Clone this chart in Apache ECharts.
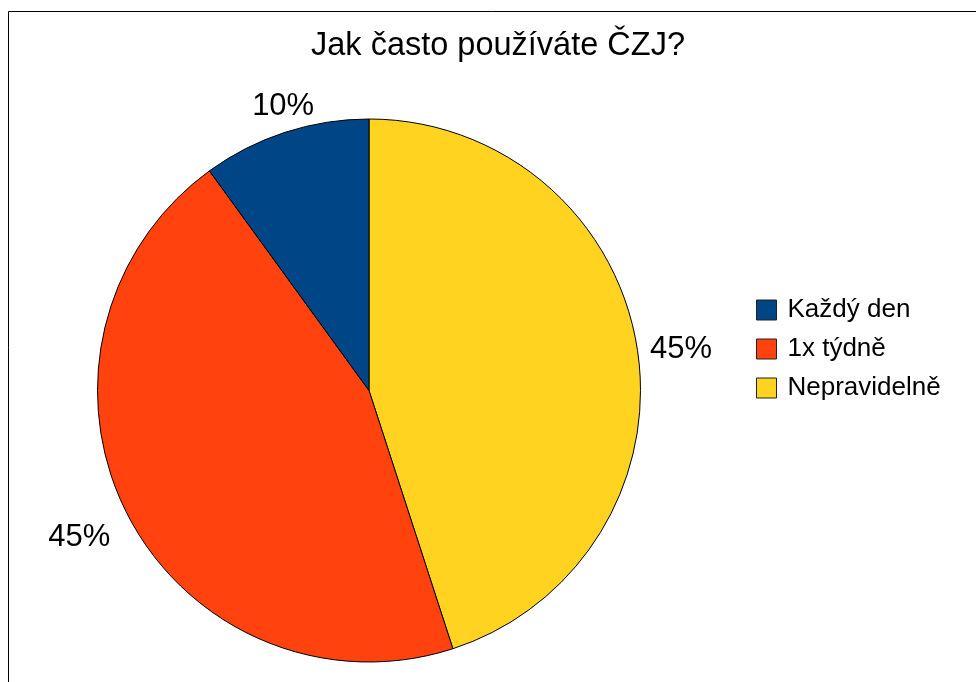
<!DOCTYPE html>
<html>
<head>
<meta charset="utf-8">
<script src="https://cdn.jsdelivr.net/npm/echarts@6/dist/echarts.min.js"></script>
<style>
html,body{margin:0;padding:0;background:#fff;}
#chart{width:976px;height:682px;}
</style>
</head>
<body>
<div id="chart"></div>
<script>
// Data
const titleText = 'Jak často používáte ČZJ?';
const categories = ['Nepravidelně', '1x týdně', 'Každý den'];
const values = [45, 45, 10];
const colors = ['#ffd320', '#ff420e', '#004586'];
const legendOrder = ['Každý den', '1x týdně', 'Nepravidelně'];
// label nudges (relative to library's outside label position)
const labelShift = [[0, 2], [-4, 22], [40, -23]];

const chart = echarts.init(document.getElementById('chart'), null, {renderer: 'canvas'});
const FONT = '"Liberation Sans", Arial, sans-serif';

chart.setOption({
  backgroundColor: '#ffffff',
  animation: false,
  graphic: [{
    type: 'rect',
    shape: {x: 8.5, y: 11.5, width: 2000, height: 2000},
    style: {fill: 'none', stroke: '#000', lineWidth: 1},
    silent: true
  }],
  title: {
    text: titleText,
    left: 498,
    top: 30,
    padding: 0,
    textAlign: 'center',
    textStyle: {fontFamily: FONT, fontSize: 32.5, fontWeight: 'normal', color: '#000'}
  },
  legend: {
    orient: 'vertical',
    left: 756,
    top: 297,
    padding: 0,
    itemWidth: 20,
    itemHeight: 20,
    itemGap: 13,
    icon: 'rect',
    data: legendOrder,
    itemStyle: {borderColor: '#222', borderWidth: 1},
    textStyle: {fontFamily: FONT, fontSize: 26, color: '#000', padding: [0, 0, 0, 6]}
  },
  series: [{
    type: 'pie',
    center: [369, 390.5],
    radius: 271.5,
    startAngle: 90,
    clockwise: true,
    avoidLabelOverlap: false,
    itemStyle: {borderColor: '#000', borderWidth: 1},
    label: {
      show: true,
      position: 'outside',
      formatter: '{c}%',
      fontFamily: FONT,
      fontSize: 31,
      color: '#000'
    },
    labelLine: {show: false, length: 3, length2: 5},
    labelLayout: function (p) {
      const s = labelShift[p.dataIndex];
      return {dx: s[0], dy: s[1]};
    },
    emphasis: {disabled: true},
    data: categories.map((c, i) => ({name: c, value: values[i], itemStyle: {color: colors[i]}}))
  }]
});
</script>
</body>
</html>
